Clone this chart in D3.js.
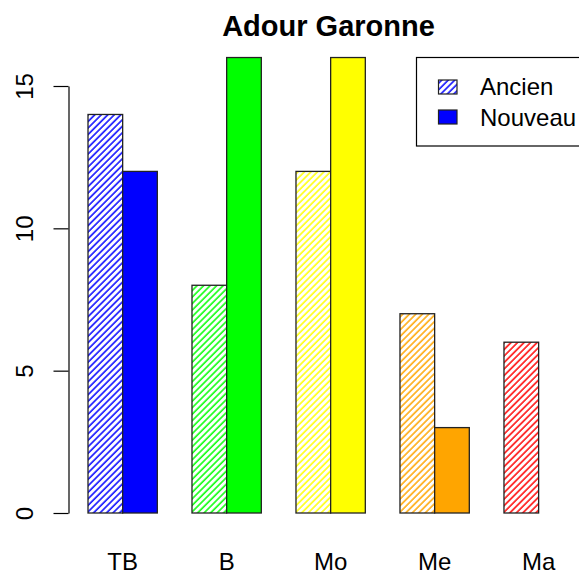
<!DOCTYPE html>
<html><head><meta charset="utf-8">
<script src="https://cdn.jsdelivr.net/npm/d3@7"></script>
<style>body{margin:0;background:#fff}svg{display:block;font-family:"Liberation Sans",Arial,sans-serif}</style>
</head><body>
<svg id="c" width="579" height="572"></svg>
<script>
const categories = ["TB", "B", "Mo", "Me", "Ma"];
const series = ["Ancien", "Nouveau"];
const ancien = [14, 8, 12, 7, 6];
const nouveau = [12, 16, 16, 3, 0];
const colors = ["#0000FF", "#00FF00", "#FFFF00", "#FFA500", "#FF0000"];
const yTicks = [0, 5, 10, 15];
const title = "Adour Garonne";

const svg = d3.select("#c");
const defs = svg.append("defs");
const SP = 4.6;
function hatch(id, c) {
  const p = defs.append("pattern").attr("id", id)
    .attr("patternUnits", "userSpaceOnUse")
    .attr("width", SP).attr("height", 10)
    .attr("patternTransform", "rotate(45)");
  p.append("rect").attr("width", SP).attr("height", 10).attr("fill", "#fff");
  p.append("line").attr("x1", 1).attr("x2", 1).attr("y1", 0).attr("y2", 10)
    .attr("stroke", c).attr("stroke-width", 1.5);
}
colors.forEach((c, i) => hatch("h" + i, c));
hatch("hleg", colors[0]);

const x = d3.scaleBand().domain(categories).range([88, 573.3]).paddingInner(1/3).paddingOuter(0);
const xs = d3.scaleBand().domain(series).range([0, x.bandwidth()]);
const y = d3.scaleLinear().domain([0, 15]).range([513, 86]);

const data = categories.map((c, i) => ({cat: c, i, vals: [ancien[i], nouveau[i]]}));
const g = svg.append("g");
data.forEach(d => {
  series.forEach((s, j) => {
    const v = d.vals[j];
    g.append("rect")
      .attr("x", x(d.cat) + xs(s)).attr("width", xs.bandwidth())
      .attr("y", y(v)).attr("height", y(0) - y(v))
      .attr("fill", j === 0 ? `url(#h${d.i})` : colors[d.i])
      .attr("stroke", "#222").attr("stroke-width", 1.3);
  });
});

// x labels
svg.append("g").selectAll("text").data(categories).join("text")
  .attr("x", d => x(d) + x.bandwidth() / 2).attr("y", 570)
  .attr("text-anchor", "middle").attr("font-size", 24).attr("fill", "#000").text(d => d);

// y axis
const ax = svg.append("g").attr("transform", "translate(68.5,0)")
  .call(d3.axisLeft(y).tickValues(yTicks).tickSize(15).tickSizeOuter(0).tickFormat(d3.format("d")));
ax.select(".domain").attr("stroke", "#000").attr("stroke-width", 1.2);
ax.selectAll(".tick line").attr("stroke", "#000").attr("stroke-width", 1.2);
ax.selectAll(".tick text")
  .attr("x", null).attr("dy", null).attr("y", 0)
  .attr("transform", "translate(-35.5,0) rotate(-90)")
  .attr("text-anchor", "middle").attr("font-size", 24)
  .attr("font-family", '"Liberation Sans",Arial,sans-serif').attr("fill", "#000");

// title
svg.append("text").attr("x", 328.5).attr("y", 36).attr("text-anchor", "middle")
  .attr("font-size", 29).attr("font-weight", "bold").attr("fill", "#000").text(title);

// legend
const leg = svg.append("g");
leg.append("rect").attr("x", 416.5).attr("y", 57.5).attr("width", 200).attr("height", 88.5)
  .attr("fill", "#fff").attr("stroke", "#000").attr("stroke-width", 1.2);
const legFills = ["url(#hleg)", colors[0]];
const legY = [80, 110];
const legTextY = [95, 125.5];
series.forEach((s, j) => {
  leg.append("rect").attr("x", 438.5).attr("y", legY[j]).attr("width", 18.5).attr("height", 14)
    .attr("fill", legFills[j]).attr("stroke", "#222").attr("stroke-width", 1.2);
  leg.append("text").attr("x", 480).attr("y", legTextY[j]).attr("font-size", 24).attr("fill", "#000").text(s);
});
</script>
</body></html>
